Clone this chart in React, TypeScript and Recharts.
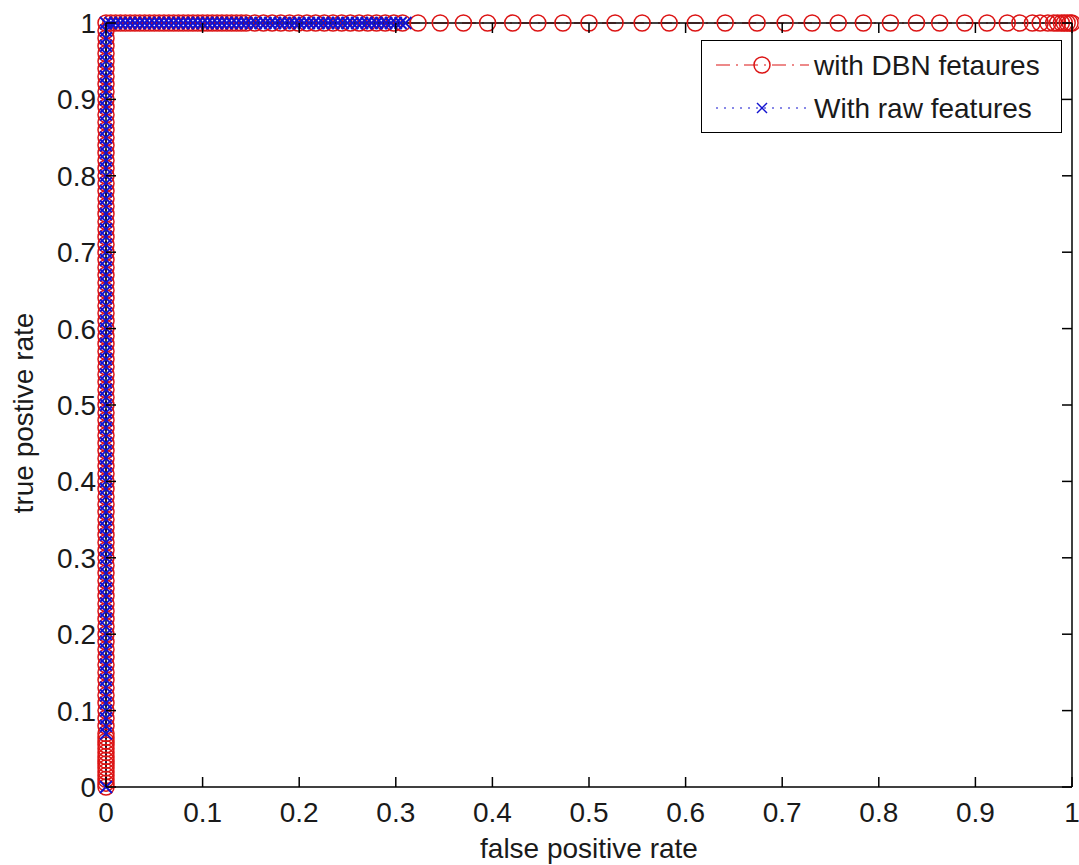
import { LineChart, Line, XAxis, YAxis } from 'recharts'

const xTicks = [0, 0.1, 0.2, 0.3, 0.4, 0.5, 0.6, 0.7, 0.8, 0.9, 1]
const yTicks = [0, 0.1, 0.2, 0.3, 0.4, 0.5, 0.6, 0.7, 0.8, 0.9, 1]

// DBN features: rise along fpr = 0, then run along tpr = 1
const dbnRiseTpr = [
  0, 0.005, 0.01, 0.015, 0.02, 0.025, 0.03, 0.035, 0.04, 0.045, 0.05, 0.055, 0.06, 0.065, 0.07,
  0.08, 0.09, 0.1, 0.11, 0.12, 0.13, 0.14, 0.15, 0.16, 0.17, 0.18, 0.19, 0.2, 0.21, 0.22, 0.23,
  0.24, 0.25, 0.26, 0.27, 0.28, 0.29, 0.3, 0.31, 0.32, 0.33, 0.34, 0.35, 0.36, 0.37, 0.38, 0.39,
  0.4, 0.41, 0.42, 0.43, 0.44, 0.45, 0.46, 0.47, 0.48, 0.49, 0.5, 0.51, 0.52, 0.53, 0.54, 0.55,
  0.56, 0.57, 0.58, 0.59, 0.6, 0.61, 0.62, 0.63, 0.64, 0.65, 0.66, 0.67, 0.68, 0.69, 0.7, 0.71,
  0.72, 0.73, 0.74, 0.75, 0.76, 0.77, 0.78, 0.79, 0.8, 0.81, 0.82, 0.83, 0.84, 0.85, 0.86, 0.87,
  0.88, 0.89, 0.9, 0.91, 0.92, 0.93, 0.94, 0.95, 0.96, 0.97, 0.98, 0.99, 1,
]
const dbnTopFpr = [
  0.005, 0.01, 0.015, 0.02, 0.025, 0.03, 0.035, 0.04, 0.045, 0.05, 0.055, 0.06, 0.065, 0.07,
  0.075, 0.08, 0.085, 0.09, 0.095, 0.1, 0.105, 0.11, 0.115, 0.12, 0.125, 0.13, 0.135, 0.14, 0.145,
  0.154, 0.163, 0.172, 0.181, 0.19, 0.199, 0.208, 0.217, 0.226, 0.235, 0.244, 0.253, 0.262,
  0.271, 0.28, 0.289, 0.298, 0.307, 0.323, 0.346, 0.37, 0.395, 0.421, 0.447, 0.473, 0.5, 0.527,
  0.555, 0.583, 0.61, 0.641, 0.674, 0.703, 0.731, 0.758, 0.784, 0.812, 0.839, 0.863, 0.889,
  0.912, 0.933, 0.946, 0.959, 0.967, 0.975, 0.981, 0.985, 0.989, 0.992, 0.995, 0.998, 1,
]

// raw features
const rawRiseTpr = [
  0, 0.07, 0.08, 0.09, 0.1, 0.11, 0.12, 0.13, 0.14, 0.15, 0.16, 0.17, 0.18, 0.19, 0.2, 0.21,
  0.22, 0.23, 0.24, 0.25, 0.26, 0.27, 0.28, 0.29, 0.3, 0.31, 0.32, 0.33, 0.34, 0.35, 0.36, 0.37,
  0.38, 0.39, 0.4, 0.41, 0.42, 0.43, 0.44, 0.45, 0.46, 0.47, 0.48, 0.49, 0.5, 0.51, 0.52, 0.53,
  0.54, 0.55, 0.56, 0.57, 0.58, 0.59, 0.6, 0.61, 0.62, 0.63, 0.64, 0.65, 0.66, 0.67, 0.68, 0.69,
  0.7, 0.71, 0.72, 0.73, 0.74, 0.75, 0.76, 0.77, 0.78, 0.79, 0.8, 0.81, 0.82, 0.83, 0.84, 0.85,
  0.86, 0.87, 0.88, 0.89, 0.9, 0.91, 0.92, 0.93, 0.94, 0.95, 0.96, 0.97, 0.98, 0.99, 1,
]
const rawTopFpr = [
  0.005, 0.01, 0.015, 0.02, 0.025, 0.03, 0.035, 0.04, 0.045, 0.05, 0.055, 0.06, 0.065, 0.07,
  0.075, 0.08, 0.085, 0.09, 0.095, 0.1, 0.105, 0.11, 0.115, 0.12, 0.125, 0.13, 0.135, 0.14,
  0.145, 0.15, 0.155, 0.16, 0.165, 0.17, 0.175, 0.18, 0.185, 0.19, 0.195, 0.2, 0.205, 0.21,
  0.215, 0.22, 0.225, 0.23, 0.235, 0.24, 0.245, 0.25, 0.255, 0.26, 0.265, 0.27, 0.275, 0.28,
  0.285, 0.29, 0.295, 0.3, 0.305, 0.31,
]

const dbnData = [
  ...dbnRiseTpr.map((t) => ({ fpr: 0, tpr: t })),
  ...dbnTopFpr.map((f) => ({ fpr: f, tpr: 1 })),
]
const rawData = [
  ...rawRiseTpr.map((t) => ({ fpr: 0, tpr: t })),
  ...rawTopFpr.map((f) => ({ fpr: f, tpr: 1 })),
]

const FONT = '"Liberation Sans", Arial, sans-serif'
const RED = '#dc1414'
const BLUE = '#1212d0'
const INK = '#1a1a1a'
const TICK = 10

function CircleDot(props: any) {
  const { cx, cy, index } = props
  if (cx == null || cy == null) return null
  return <circle key={index} cx={cx} cy={cy} r={8} fill="none" stroke={RED} strokeWidth={1.5} />
}

function CrossDot(props: any) {
  const { cx, cy, index } = props
  if (cx == null || cy == null) return null
  const s = 6
  return (
    <g key={index} stroke={BLUE} strokeWidth={1.9}>
      <line x1={cx - s} y1={cy - s} x2={cx + s} y2={cy + s} />
      <line x1={cx - s} y1={cy + s} x2={cx + s} y2={cy - s} />
    </g>
  )
}

function BottomTick({ x, y, payload }: any) {
  return (
    <g>
      <line x1={x} y1={y} x2={x} y2={y - TICK} stroke="#000" strokeWidth={1.5} />
      <text x={x} y={y + 35} textAnchor="middle" fontSize={28} fontFamily={FONT} fill={INK}>
        {String(payload.value)}
      </text>
    </g>
  )
}

function LeftTick({ x, y, payload }: any) {
  return (
    <g>
      <line x1={x} y1={y} x2={x + TICK} y2={y} stroke="#000" strokeWidth={1.5} />
      <text x={x - 10} y={y + 10} textAnchor="end" fontSize={28} fontFamily={FONT} fill={INK}>
        {String(payload.value)}
      </text>
    </g>
  )
}

function TopTick({ x, y }: any) {
  return <line x1={x} y1={y} x2={x} y2={y + TICK} stroke="#000" strokeWidth={1.5} />
}

function RightTick({ x, y }: any) {
  return <line x1={x} y1={y} x2={x - TICK} y2={y} stroke="#000" strokeWidth={1.5} />
}

function XTitle({ viewBox }: any) {
  const { x, y, width } = viewBox
  return (
    <text x={x + width / 2} y={y + 71} textAnchor="middle" fontSize={28} fontFamily={FONT} fill={INK}>
      false positive rate
    </text>
  )
}

function YTitle() {
  return (
    <text
      x={33}
      y={413}
      transform="rotate(-90 33 413)"
      textAnchor="middle"
      fontSize={28}
      fontFamily={FONT}
      fill={INK}
    >
      true postive rate
    </text>
  )
}

function LegendBox() {
  return (
    <div
      style={{
        position: 'absolute',
        left: 701,
        top: 40,
        width: 361,
        height: 93,
        boxSizing: 'border-box',
        border: '1.5px solid #000',
        background: '#fff',
      }}
    >
      <svg width={358} height={90} style={{ display: 'block' }}>
        <line x1={14} y1={24} x2={107} y2={24} stroke={RED} strokeWidth={1.2} strokeDasharray="14 6 2 6" />
        <circle cx={60} cy={24} r={8} fill="none" stroke={RED} strokeWidth={1.5} />
        <text x={112} y={34} fontSize={28} fontFamily={FONT} fill={INK}>
          with DBN fetaures
        </text>
        <line x1={14} y1={67} x2={107} y2={67} stroke={BLUE} strokeWidth={1.2} strokeDasharray="2 6" />
        <g stroke={BLUE} strokeWidth={1.5}>
          <line x1={55} y1={62} x2={65} y2={72} />
          <line x1={55} y1={72} x2={65} y2={62} />
        </g>
        <text x={112} y={77} fontSize={28} fontFamily={FONT} fill={INK}>
          With raw features
        </text>
      </svg>
    </div>
  )
}

export default function App() {
  return (
    <div
      style={{
        position: 'absolute',
        left: 0,
        top: 0,
        width: 1079,
        height: 865,
        background: '#fff',
        fontFamily: FONT,
      }}
    >
      <LineChart
        width={1079}
        height={865}
        margin={{ top: 22, right: 6, bottom: 77, left: 105 }}
      >
        <XAxis
          dataKey="fpr"
          type="number"
          domain={[0, 1]}
          ticks={xTicks}
          interval={0}
          height={1}
          tickSize={0}
          tickMargin={0}
          tickLine={false}
          tick={<BottomTick />}
          axisLine={{ stroke: '#000', strokeWidth: 1.5 }}
          label={<XTitle />}
        />
        <XAxis
          xAxisId="top"
          orientation="top"
          dataKey="fpr"
          type="number"
          domain={[0, 1]}
          allowDataOverflow
          ticks={xTicks}
          interval={0}
          height={1}
          tickSize={0}
          tickMargin={0}
          tickLine={false}
          tick={<TopTick />}
          axisLine={{ stroke: '#000', strokeWidth: 1.5 }}
        />
        <YAxis
          dataKey="tpr"
          type="number"
          domain={[0, 1]}
          ticks={yTicks}
          interval={0}
          width={1}
          tickSize={0}
          tickMargin={0}
          tickLine={false}
          tick={<LeftTick />}
          axisLine={{ stroke: '#000', strokeWidth: 1.5 }}
          label={<YTitle />}
        />
        <YAxis
          yAxisId="right"
          orientation="right"
          dataKey="tpr"
          type="number"
          domain={[0, 1]}
          allowDataOverflow
          ticks={yTicks}
          interval={0}
          width={1}
          tickSize={0}
          tickMargin={0}
          tickLine={false}
          tick={<RightTick />}
          axisLine={{ stroke: '#000', strokeWidth: 1.5 }}
        />
        <Line
          data={dbnData}
          dataKey="tpr"
          name="with DBN fetaures"
          type="linear"
          stroke={RED}
          strokeWidth={1.2}
          strokeDasharray="14 6 2 6"
          dot={CircleDot}
          activeDot={false}
          isAnimationActive={false}
        />
        <Line
          data={rawData}
          dataKey="tpr"
          name="With raw features"
          type="linear"
          stroke={BLUE}
          strokeWidth={1.2}
          strokeDasharray="2 6"
          dot={CrossDot}
          activeDot={false}
          isAnimationActive={false}
        />
      </LineChart>
      <LegendBox />
    </div>
  )
}
